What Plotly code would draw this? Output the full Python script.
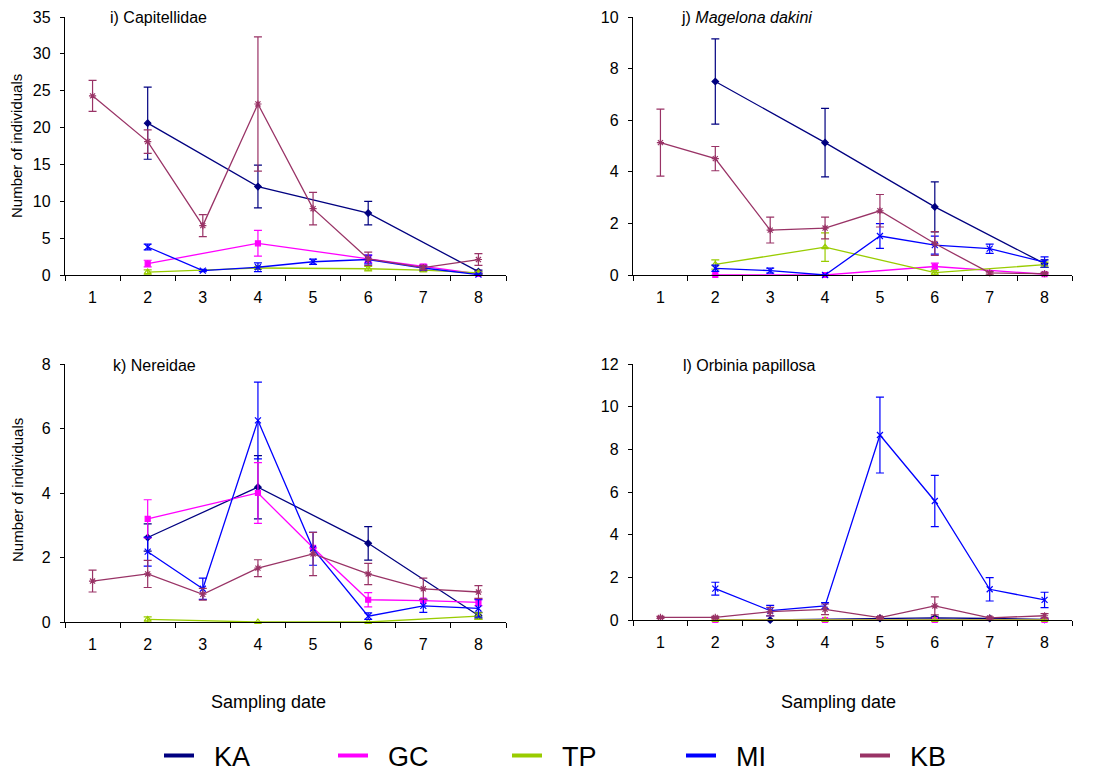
import plotly.graph_objects as go

# ---------------- data ----------------
dates = ["1", "2", "3", "4", "5", "6", "7", "8"]
sites = ["KA", "GC", "TP", "MI", "KB"]

# i) Capitellidae
cap_KA = [None, 20.6, None, 12.0, None, 8.4, None, 0.45]
cap_KA_err = [None, 4.9, None, 2.9, None, 1.6, None, 0.2]
cap_GC = [None, 1.55, None, 4.3, None, 2.2, 1.15, 0.15]
cap_GC_err = [None, 0.45, None, 1.75, None, 0.5, 0.3, 0.1]
cap_TP = [None, 0.4, None, 0.95, None, 0.85, 0.65, 0.3]
cap_TP_err = [None, 0.3, None, 0.2, None, 0.3, 0.2, 0.15]
cap_MI = [None, 3.8, 0.6, 1.05, 1.8, 2.1, 0.95, 0.05]
cap_MI_err = [None, 0.4, 0.15, 0.6, 0.35, 0.6, 0.3, 0.1]
cap_KB = [24.3, 18.1, 6.7, 23.2, 9.0, 2.2, 1.0, 2.1]
cap_KB_err = [2.1, 1.6, 1.5, 9.1, 2.2, 0.9, 0.3, 0.8]

# j) Magelona dakini
mag_KA = [None, 7.5, None, 5.13, None, 2.64, None, 0.44]
mag_KA_err = [None, 1.65, None, 1.33, None, 0.97, None, 0.15]
mag_GC = [None, 0.0, None, 0.0, None, 0.33, None, 0.03]
mag_GC_err = [None, 0.0, None, 0.0, None, 0.13, None, 0.03]
mag_TP = [None, 0.41, None, 1.08, None, 0.09, None, 0.4]
mag_TP_err = [None, 0.18, None, 0.55, None, 0.08, None, 0.1]
mag_MI = [None, 0.26, 0.17, 0.0, 1.51, 1.16, 1.02, 0.5]
mag_MI_err = [None, 0.12, 0.1, 0.0, 0.48, 0.35, 0.18, 0.2]
mag_KB = [5.13, 4.51, 1.74, 1.82, 2.49, 1.22, 0.08, 0.05]
mag_KB_err = [1.3, 0.47, 0.5, 0.42, 0.63, 0.46, 0.05, 0.05]

# k) Nereidae
ner_KA = [None, 2.62, None, 4.18, None, 2.44, None, 0.2]
ner_KA_err = [None, 0.42, None, 0.98, None, 0.52, None, 0.1]
ner_GC = [None, 3.2, None, 4.0, 2.3, 0.69, 0.66, 0.61]
ner_GC_err = [None, 0.59, None, 0.94, None, 0.22, None, 0.1]
ner_TP = [None, 0.08, None, 0.0, None, 0.0, None, 0.18]
ner_TP_err = [None, 0.08, None, 0.0, None, 0.0, None, 0.1]
ner_MI = [None, 2.18, 1.03, 6.25, 2.27, 0.18, 0.5, 0.42]
ner_MI_err = [None, 0.45, 0.33, 1.19, 0.51, 0.1, 0.2, 0.27]
ner_KB = [1.27, 1.49, 0.86, 1.67, 2.11, 1.49, 1.03, 0.93]
ner_KB_err = [0.34, 0.42, 0.18, 0.26, 0.67, 0.33, 0.33, 0.2]

# l) Orbinia papillosa
orb_KA = [None, None, 0.0, None, 0.08, 0.1, 0.07, 0.03]
orb_KA_err = [None, None, 0.0, None, 0.03, 0.05, 0.03, 0.02]
orb_GC = [None, 0.0, None, 0.0, None, 0.0, None, 0.0]
orb_GC_err = [None, 0.0, None, 0.0, None, 0.0, None, 0.0]
orb_TP = [None, 0.0, None, 0.0, None, 0.0, None, 0.0]
orb_TP_err = [None, 0.0, None, 0.0, None, 0.0, None, 0.0]
orb_MI = [None, 1.47, 0.44, 0.66, 8.67, 5.58, 1.44, 0.94]
orb_MI_err = [None, 0.3, 0.25, 0.15, 1.78, 1.2, 0.55, 0.36]
orb_KB = [0.12, 0.12, 0.39, 0.5, 0.11, 0.66, 0.1, 0.2]
orb_KB_err = [0.05, 0.05, 0.2, 0.25, 0.05, 0.42, 0.05, 0.1]

panels = [
    dict(vals=[cap_KA, cap_GC, cap_TP, cap_MI, cap_KB],
         errs=[cap_KA_err, cap_GC_err, cap_TP_err, cap_MI_err, cap_KB_err],
         ymax=35, dtick=5, title="i) Capitellidae"),
    dict(vals=[mag_KA, mag_GC, mag_TP, mag_MI, mag_KB],
         errs=[mag_KA_err, mag_GC_err, mag_TP_err, mag_MI_err, mag_KB_err],
         ymax=10, dtick=2, title="j) <i>Magelona dakini</i>"),
    dict(vals=[ner_KA, ner_GC, ner_TP, ner_MI, ner_KB],
         errs=[ner_KA_err, ner_GC_err, ner_TP_err, ner_MI_err, ner_KB_err],
         ymax=8, dtick=2, title="k) Nereidae"),
    dict(vals=[orb_KA, orb_GC, orb_TP, orb_MI, orb_KB],
         errs=[orb_KA_err, orb_GC_err, orb_TP_err, orb_MI_err, orb_KB_err],
         ymax=12, dtick=2, title="l) Orbinia papillosa"),
]

# ---------------- styles ----------------
W, H = 1101, 774
FONT = "Liberation Sans, Arial, sans-serif"
colors = {"KA": "#000080", "GC": "#FF00FF", "TP": "#99CC00", "MI": "#0000FF", "KB": "#993366"}
markers = {
    "KA": dict(symbol="diamond", size=5),
    "GC": dict(symbol="square", size=5),
    "TP": dict(symbol="triangle-up-open", size=6),
    "MI": dict(symbol="x-thin-open", size=6),
    "KB": dict(symbol="asterisk-open", size=6),
}

# pixel boxes of the four plot areas (left, right, top, bottom)
boxes = [(65, 506, 17, 275), (633, 1072, 17, 275), (65, 506, 364, 622), (633, 1072, 364, 620)]
title_pos = [(108, 17), (679, 17), (111, 365), (681, 365)]

fig = go.Figure()
layout = dict(
    width=W, height=H, margin=dict(l=0, r=0, t=0, b=0, autoexpand=False),
    paper_bgcolor="white", plot_bgcolor="white",
    font=dict(family=FONT, color="black", size=16),
    showlegend=True,
)
annotations = []

for k, p in enumerate(panels):
    n = "" if k == 0 else str(k + 1)
    xa, ya = "x" + n, "y" + n
    for s, v, e in zip(sites, p["vals"], p["errs"]):
        m = dict(color=colors[s], line=dict(color=colors[s], width=1.2), **markers[s])
        fig.add_trace(go.Scatter(
            x=dates, y=v, mode="lines+markers", name=s, showlegend=False,
            connectgaps=True, cliponaxis=False,
            line=dict(color=colors[s], width=1.3), marker=m,
            error_y=dict(type="data", array=e, symmetric=True, color=colors[s],
                         thickness=1.2, width=4),
            xaxis=xa, yaxis=ya,
        ))
    l, r, t, b = boxes[k]
    layout["xaxis" + n] = dict(
        domain=[l / W, r / W], anchor=ya, type="category",
        categoryorder="array", categoryarray=dates, range=[-0.5, 7.5],
        tickson="boundaries", ticks="outside", ticklen=5, tickcolor="black",
        showline=True, linecolor="black", linewidth=1.3, showgrid=False,
        zeroline=False, tickfont=dict(size=16), ticklabelstandoff=8,
    )
    layout["yaxis" + n] = dict(
        domain=[1 - b / H, 1 - t / H], anchor=xa, range=[0, p["ymax"]],
        dtick=p["dtick"], ticks="outside", ticklen=4, tickcolor="black",
        showline=True, linecolor="black", linewidth=1.3, showgrid=False,
        zeroline=False, tickfont=dict(size=16), ticklabelstandoff=6,
    )
    tx, ty = title_pos[k]
    annotations.append(dict(
        text=p["title"], x=tx / W, y=1 - ty / H, xref="paper", yref="paper",
        xanchor="left", yanchor="middle", showarrow=False, font=dict(size=16),
    ))

# axis titles
for yy in (146, 490):
    annotations.append(dict(text="Number of individuals", x=17 / W, y=1 - yy / H,
                            xref="paper", yref="paper", textangle=-90,
                            xanchor="center", yanchor="middle",
                            showarrow=False, font=dict(size=15)))
for xx in (268, 838):
    annotations.append(dict(text="Sampling date", x=xx / W, y=1 - 702 / H,
                            xref="paper", yref="paper", showarrow=False,
                            xanchor="center", yanchor="middle",
                            font=dict(size=18)))

# legend-only traces (thick lines)
for s in sites:
    fig.add_trace(go.Scatter(x=[None], y=[None], mode="lines",
                             name="\u00a0\u00a0" + s,
                             line=dict(color=colors[s], width=4), showlegend=True))

layout["annotations"] = annotations
layout["legend"] = dict(
    orientation="h", x=159 / W, y=1 - 756 / H, xanchor="left", yanchor="middle",
    font=dict(size=27, family=FONT), entrywidth=129, entrywidthmode="pixels",
    bgcolor="rgba(0,0,0,0)", itemclick=False,
)
fig.update_layout(**layout)
fig.write_html("out.html")
